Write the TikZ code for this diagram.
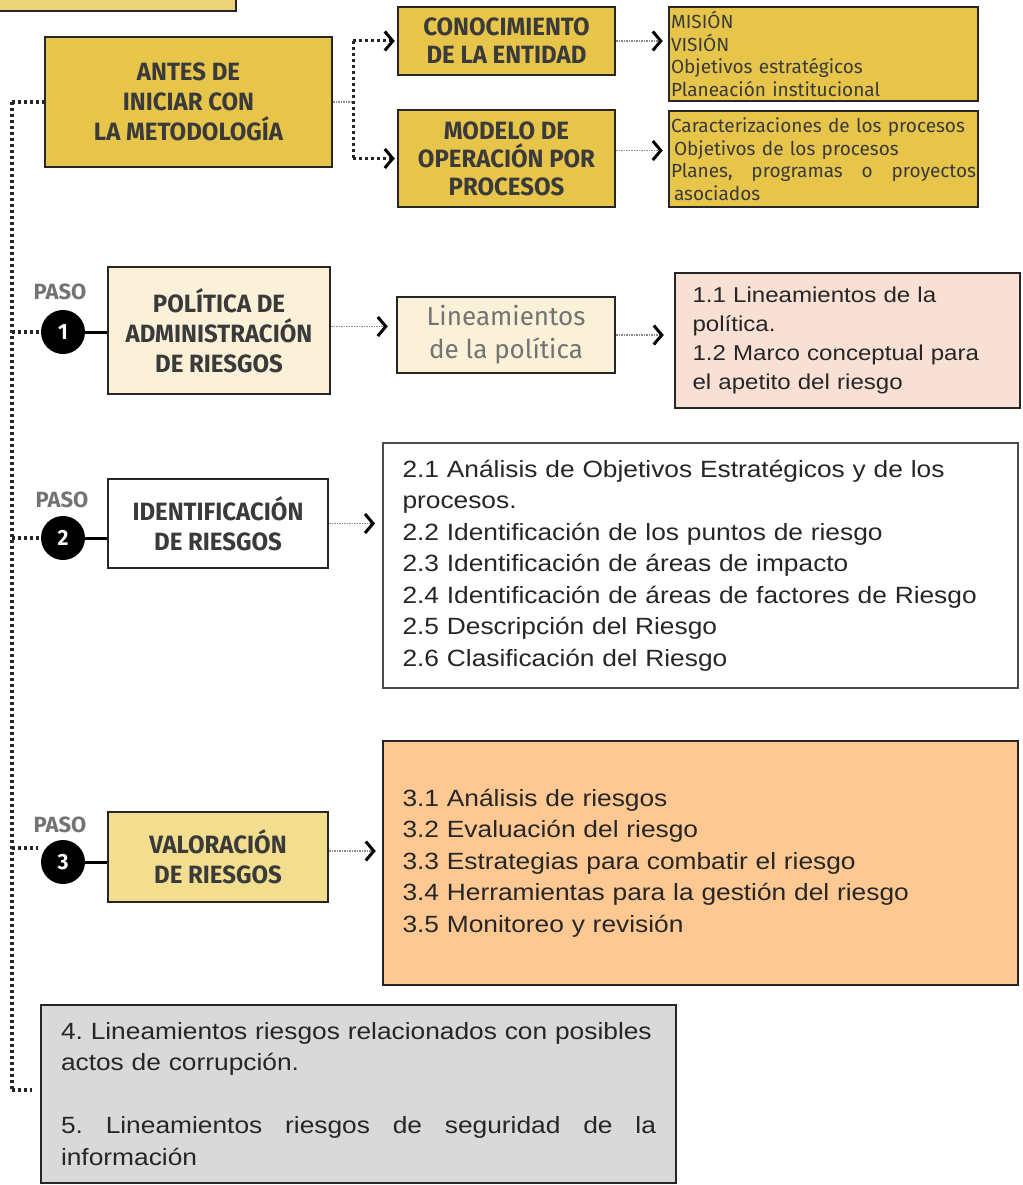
\documentclass[tikz,border=0pt]{standalone}
\usepackage{fontspec}
\setmainfont{Liberation Sans}
\newfontfamily\headfont[FakeStretch=0.96]{Fira Sans}
\newfontfamily\chicafont{Fira Sans}
\newfontfamily\cuerpo[FakeStretch=1.12, WordSpace=0.5]{Liberation Sans}
\usetikzlibrary{arrows.meta,positioning}
\frenchspacing

\definecolor{oro}{HTML}{E6C54A}
\definecolor{oroclaro}{HTML}{F2DE8E}
\definecolor{crema}{HTML}{FAF1D8}
\definecolor{rosado}{HTML}{F9E0D4}
\definecolor{naranja}{HTML}{FDC891}
\definecolor{gris}{HTML}{D9D9D9}
\definecolor{tinta}{HTML}{3A3A3A}

\begin{document}
\begin{tikzpicture}[x=1pt, y=-1pt,
    caja/.style={draw=black!85, line width=2.5pt, inner sep=0pt},
    titulo/.style={caja, text=tinta, align=center,
        font=\headfont\bfseries\fontsize{25}{30}\selectfont},
    lista/.style={caja, align=left, text=black!85,
        font=\cuerpo\fontsize{23.5}{31.5}\selectfont},
    paso/.style={circle, fill=black, text=white, minimum size=44pt, inner sep=0pt,
        font=\headfont\bfseries\fontsize{22}{22}\selectfont},
    pasotxt/.style={text=black!55, font=\chicafont\bfseries\fontsize{22}{22}\selectfont},
    espina/.style={black!85, line width=4pt, dash pattern=on 3pt off 3pt},
    punta/.style={-{Straight Barb[black, length=8pt, width=19pt, line width=3pt]}},
    flecha/.style={black!45, line width=1.5pt, densely dotted, punta, shorten >=2pt}]
    \useasboundingbox (0,0) rectangle (1022,1185);

    % bloque inicial
    \node[caja, fill=oro!75, minimum width=246pt, minimum height=41pt] (previo) at (113,-9.5) {};
    \node[titulo, fill=oro, minimum width=287pt, minimum height=130pt] (antes) at (188.5,102)
        {ANTES DE\\INICIAR CON\\LA METODOLOGÍA};
    \node[titulo, fill=oro, minimum width=217pt, minimum height=68pt,
        font=\headfont\bfseries\fontsize{25}{28}\selectfont] (conoc) at (506.5,41)
        {CONOCIMIENTO\\DE LA ENTIDAD};
    \node[titulo, fill=oro, minimum width=217pt, minimum height=97pt,
        font=\headfont\bfseries\fontsize{25}{28}\selectfont] (modelo) at (506.5,158.5)
        {MODELO DE\\OPERACIÓN POR\\PROCESOS};
    \node[caja, fill=oro, minimum width=309pt, minimum height=94pt, text width=305pt,
        align=left, text=tinta, font=\chicafont\fontsize{19}{22.5}\selectfont] (mision) at (823.5,54)
        {MISIÓN\\VISIÓN\\Objetivos estratégicos\\Planeación institucional};
    \node[caja, fill=oro, minimum width=309pt, minimum height=96pt, text width=305pt,
        align=left, text=tinta, font=\chicafont\fontsize{19}{22.5}\selectfont] (caract) at (823.5,159)
        {Caracterizaciones de los procesos\\
         \hspace*{3pt}Objetivos de los procesos\\
         Planes,\hfill programas\hfill o\hfill proyectos\\
         \hspace*{3pt}asociados};

    % paso 1
    \node[titulo, fill=crema, minimum width=222pt, minimum height=127pt] (politica) at (219,330.5)
        {POLÍTICA DE\\ADMINISTRACIÓN\\DE RIESGOS};
    \node[caja, fill=crema, minimum width=218pt, minimum height=76pt, align=center,
        text=black!55, font=\chicafont\fontsize{26}{33}\selectfont] (lineam) at (506,335)
        {Lineamientos\\de la política};
    \node[caja, fill=rosado, minimum width=345pt, minimum height=135pt, text width=310pt,
        align=left, text=black!85, font=\cuerpo\fontsize{21.5}{29}\selectfont] (marco) at (847.5,340.5)
        {1.1 Lineamientos de la\\política.\\1.2 Marco conceptual para\\el apetito del riesgo};

    % paso 2
    \node[titulo, fill=white, minimum width=220pt, minimum height=89pt] (ident) at (218,523.5)
        {IDENTIFICACIÓN\\DE RIESGOS};
    \node[lista, draw=black!70, line width=2pt, fill=white, minimum width=635pt, minimum height=245pt,
        text width=596pt] (lista2) at (700.5,565.5)
        {2.1 Análisis de Objetivos Estratégicos y de los\\procesos.\\
         2.2 Identificación de los puntos de riesgo\\
         2.3 Identificación de áreas de impacto\\
         2.4 Identificación de áreas de factores de Riesgo\\
         2.5 Descripción del Riesgo\\
         2.6 Clasificación del Riesgo};

    % paso 3
    \node[lista, fill=naranja, minimum width=635pt, minimum height=244pt,
        text width=596pt] (lista3) at (700.5,863)
        {3.1 Análisis de riesgos\\
         3.2 Evaluación del riesgo\\
         3.3 Estrategias para combatir el riesgo\\
         3.4 Herramientas para la gestión del riesgo\\
         3.5 Monitoreo y revisión};
    \node[titulo, fill=oroclaro, minimum width=220pt, minimum height=90pt] (valor) at (218,857)
        {VALORACIÓN\\DE RIESGOS};

    % pasos 4 y 5
    \node[lista, fill=gris, minimum width=635pt, minimum height=178pt,
        text width=595pt] (lista4) at (358.5,1094)
        {\mbox{4. Lineamientos riesgos relacionados con posibles}\\
         actos de corrupción.\\[31.5pt]
         5.\hfill Lineamientos\hfill riesgos\hfill de\hfill seguridad\hfill de\hfill la\\
         información};

    % circulos de paso
    \node[paso] (c1) at (63,332) {1};
    \node[paso] (c2) at (63,538) {2};
    \node[paso] (c3) at (63,862) {3};
    \node[pasotxt] (p1) at (60,292) {PASO};
    \node[pasotxt] (p2) at (62,500) {PASO};
    \node[pasotxt] (p3) at (60,825) {PASO};

    \draw[line width=3pt] (c1.east) -- (c1.east -| politica.west);
    \draw[line width=3pt] (c2.east) -- (c2.east -| ident.west);
    \draw[line width=3pt] (c3.east) -- (c3.east -| valor.west);

    % linea de la izquierda
    \coordinate (arriba) at (12,102);
    \coordinate (abajo) at (12,1090);
    \coordinate (entrada3) at (12,848);
    \draw[espina] (arriba) -- (abajo);
    \draw[espina] (arriba) -- (antes.west);
    \draw[espina] (12,332) -- (c1.west);
    \draw[espina] (12,538) -- (c2.west);
    \draw[espina, shorten >=3pt] (entrada3) -- (entrada3 -| c3.west);
    \draw[espina, shorten >=8pt] (abajo) -- (abajo -| lista4.west);

    % conexiones
    \coordinate (rama) at (353,102);
    \draw[black!45, line width=1.5pt, densely dotted] (antes.east) -- (rama);
    \draw[espina, line width=3pt] (rama |- conoc.west) -- (rama |- modelo.west);
    \draw[espina, line width=3pt, punta, shorten >=2pt] (rama |- conoc.west) -- (conoc.west);
    \draw[espina, line width=3pt, punta, shorten >=2pt] (rama |- modelo.west) -- (modelo.west);
    \draw[flecha, shorten >=5pt] (conoc.east) -- (conoc.east -| mision.west);
    \draw[flecha, shorten >=5pt] ([yshift=8pt]modelo.east) -- ([yshift=8pt]modelo.east -| caract.west);
    \draw[flecha, shorten >=8pt] ([yshift=4pt]politica.east) -- ([yshift=4pt]politica.east -| lineam.west);
    \draw[flecha, shorten >=10pt] (lineam.east) -- (lineam.east -| marco.west);
    \draw[flecha, shorten >=7pt] (ident.east) -- (ident.east -| lista2.west);
    \draw[flecha, shorten >=6pt] ([yshift=6pt]valor.east) -- ([yshift=6pt]valor.east -| lista3.west);
\end{tikzpicture}
\end{document}
